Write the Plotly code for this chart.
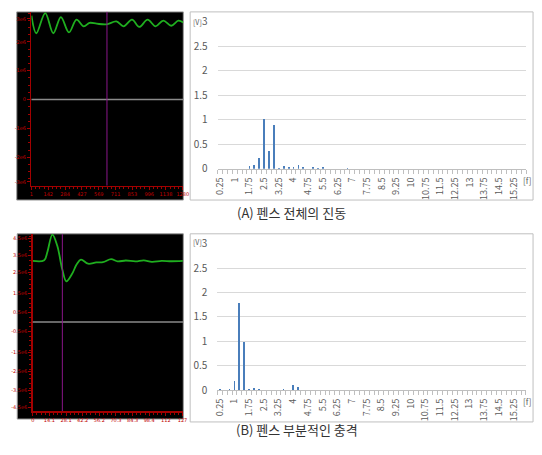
import plotly.graph_objects as go

W, H = 542, 455

# ---------------- data ----------------
# (A) time signal (left top)
sigA_t = [0, 0.29, 0.82, 1.30, 1.75, 2.23, 2.68, 3.11, 3.46, 3.88, 4.47, 5.05,
          5.48, 5.98, 6.41, 6.91, 7.38, 7.84, 8.31, 8.74, 9.03]
sigA_v = [2.91, 2.30, 3.00, 2.30, 2.86, 2.33, 2.77, 2.54, 2.66, 2.63, 2.61, 2.71,
          2.54, 2.77, 2.52, 2.77, 2.54, 2.74, 2.56, 2.74, 2.67]
cursorA = 4.49
sigA_xticks = ["1", "142", "284", "427", "569", "711", "853", "996", "1138", "1280"]
sigA_yvals = [2.8, 2, 1, 0, -1, -2, -2.85]
sigA_ytext = ["3e6", "2e6", "1e6", "0", "-1e6", "-2e6", "-3e6"]

# (B) time signal (left bottom)
sigB_t = [0, 0.69, 0.88, 1.18, 1.47, 1.78, 2.02, 2.35, 2.65, 2.90, 3.33, 3.82,
          4.22, 4.71, 5.10, 5.59, 6.18, 6.67, 7.16, 7.75, 8.33, 9.02]
sigB_v = [3.22, 3.25, 3.69, 4.60, 4.03, 2.76, 2.14, 2.51, 3.05, 3.29, 3.07, 3.14,
          3.15, 3.31, 3.19, 3.24, 3.19, 3.25, 3.17, 3.22, 3.20, 3.22]
cursorB = 1.78
sigB_xticks = ["0", "14.1", "28.1", "42.2", "56.2", "70.3", "84.3", "98.4", "112", "127"]
sigB_yvals = [4.4, 3.5, 2.6, 1.5, 0.5, -0.5, -1.6, -2.6, -3.6, -4.5]
sigB_ytext = ["4.5e6", "3.5e6", "2.5e6", "1.5e6", "0.5e6", "-0.5e6", "-1.5e6",
              "-2.5e6", "-3.5e6", "-4.5e6"]

# spectra: frequency categories 0.25 .. 15.75
freq = [0.25, 0.5, 0.75, 1.0, 1.25, 1.5, 1.75, 2.0, 2.25, 2.5, 2.75, 3.0, 3.25,
        3.5, 3.75, 4.0, 4.25, 4.5, 4.75, 5.0, 5.25, 5.5, 5.75, 6.0, 6.25, 6.5,
        6.75, 7.0, 7.25, 7.5, 7.75, 8.0, 8.25, 8.5, 8.75, 9.0, 9.25, 9.5, 9.75,
        10.0, 10.25, 10.5, 10.75, 11.0, 11.25, 11.5, 11.75, 12.0, 12.25, 12.5,
        12.75, 13.0, 13.25, 13.5, 13.75, 14.0, 14.25, 14.5, 14.75, 15.0, 15.25,
        15.5, 15.75]
specA = [0, 0, 0, 0, 0, 0, 0.06, 0.08, 0.23, 1.01, 0.37, 0.89, 0.01,
         0.065, 0.03, 0.04, 0.085, 0.03, 0.005, 0.045, 0.02, 0.03, 0.005, 0, 0, 0.005,
         0.02, 0, 0, 0, 0, 0, 0, 0, 0, 0, 0, 0, 0,
         0, 0, 0, 0, 0, 0, 0, 0, 0, 0, 0,
         0, 0, 0, 0, 0, 0, 0, 0, 0, 0, 0,
         0, 0]
specB = [0.02, 0.01, 0.02, 0.19, 1.78, 0.98, 0.02, 0.04, 0.02, 0.005, 0, 0, 0.005,
         0.02, 0, 0.10, 0.065, 0.01, 0, 0, 0, 0, 0, 0, 0, 0,
         0.01, 0, 0.01, 0, 0, 0, 0, 0, 0, 0, 0, 0, 0,
         0, 0, 0, 0, 0, 0, 0, 0, 0, 0, 0,
         0, 0, 0, 0, 0, 0, 0, 0, 0, 0, 0,
         0, 0]
freq_labels = ["0.25", "1", "1.75", "2.5", "3.25", "4", "4.75", "5.5", "6.25", "7",
               "7.75", "8.5", "9.25", "10", "10.75", "11.5", "12.25", "13", "13.75",
               "14.5", "15.25"]
captions = ["(A) 펜스 전체의 진동", "(B) 펜스 부분적인 충격"]

# ---------------- figure ----------------
def px(x):
    return x / W

def py(y):
    return 1 - y / H

fig = go.Figure()

GREEN = "#1fae1f"
RED = "#a30000"
RED_TXT = "#c00000"
BAR = "#4a7ebb"
GRID = "#d9d9d9"
TXT = "#595959"
FONT = "Noto Sans CJK KR"

fig.add_trace(go.Scatter(x=sigA_t, y=sigA_v, mode="lines", line=dict(color=GREEN, width=1.8, shape="spline", smoothing=1.0),
                         xaxis="x", yaxis="y", hoverinfo="skip"))
fig.add_trace(go.Bar(x=freq, y=specA, width=0.09, marker=dict(color=BAR, line=dict(width=0)),
                     xaxis="x2", yaxis="y2"))
fig.add_trace(go.Scatter(x=sigB_t, y=sigB_v, mode="lines", line=dict(color=GREEN, width=1.8, shape="spline", smoothing=1.0),
                         xaxis="x3", yaxis="y3", hoverinfo="skip"))
fig.add_trace(go.Bar(x=freq, y=specB, width=0.09, marker=dict(color=BAR, line=dict(width=0)),
                     xaxis="x4", yaxis="y4"))

def scope_x(dom, anchor, ticktext):
    return dict(domain=dom, anchor=anchor, range=[0, 9.03], tickvals=list(range(len(ticktext))),
                ticktext=ticktext, showgrid=False, zeroline=False, showline=True, linecolor=RED,
                linewidth=1.5, ticks="outside", ticklen=3, tickcolor=RED, tickwidth=1,
                tickfont=dict(size=5, color=RED_TXT, family="DejaVu Sans"),
                minor=dict(ticks="outside", dtick=0.25, ticklen=2, tickcolor=RED),
                fixedrange=True)

def scope_y(dom, anchor, rng, vals, text):
    return dict(domain=dom, anchor=anchor, range=rng, tickvals=vals, ticktext=text,
                showgrid=False, zeroline=False, showline=True, linecolor=RED, linewidth=1.5,
                ticks="outside", ticklen=3, tickcolor=RED, tickwidth=1,
                tickfont=dict(size=5, color=RED_TXT, family="DejaVu Sans"),
                minor=dict(ticks="outside", dtick=0.25, ticklen=2, tickcolor=RED),
                fixedrange=True)

def spec_x(dom, anchor):
    return dict(domain=dom, anchor=anchor, range=[0.125, 15.875], tickvals=freq[::3],
                ticktext=freq_labels, tickangle=-90, showgrid=False, zeroline=False,
                showline=True, linecolor="#bfbfbf", linewidth=1, ticks="",
                tickfont=dict(size=9, color=TXT, family=FONT),
                minor=dict(ticks="outside", tick0=0.125, dtick=0.25, ticklen=4, tickcolor="#bfbfbf"),
                ticklabelstandoff=4, fixedrange=True)

def spec_y(dom, anchor):
    return dict(domain=dom, anchor=anchor, range=[0, 3], dtick=0.5, showgrid=True,
                gridcolor=GRID, gridwidth=1, zeroline=False, showline=False,
                tickfont=dict(size=10, color=TXT, family=FONT), ticklabelstandoff=9,
                fixedrange=True)

fig.update_layout(
    width=W, height=H, margin=dict(l=0, r=0, t=0, b=0),
    paper_bgcolor="white", plot_bgcolor="rgba(0,0,0,0)", showlegend=False,
    xaxis=scope_x([px(27), px(182)], "y", sigA_xticks),
    yaxis=scope_y([py(183), py(3)], "x", [-2.98, 3.04], sigA_yvals, sigA_ytext),
    xaxis2=spec_x([px(217), px(532)], "y2"),
    yaxis2=spec_y([py(165.7), py(13.3)], "x2"),
    xaxis3=scope_x([px(28.3), px(181.7)], "y3", sigB_xticks),
    yaxis3=scope_y([py(416.7), py(233.3)], "x3", [-4.69, 4.63], sigB_yvals, sigB_ytext),
    xaxis4=spec_x([px(216.7), px(531.7)], "y4"),
    yaxis4=spec_y([py(395), py(243.3)], "x4"),
    bargap=0,
)

shapes = [
    # black scope panels
    dict(type="rect", xref="paper", yref="paper", x0=px(12), x1=px(182), y0=py(198), y1=py(3),
         fillcolor="black", line=dict(color="#9a9a9a", width=1), layer="below"),
    dict(type="rect", xref="paper", yref="paper", x0=px(12.5), x1=px(182), y0=py(425), y1=py(233),
         fillcolor="black", line=dict(color="#9a9a9a", width=1), layer="below"),
    # spectrum panel frames
    dict(type="rect", xref="paper", yref="paper", x0=px(189), x1=px(539), y0=py(198), y1=py(3),
         fillcolor="rgba(0,0,0,0)", line=dict(color="#bfbfbf", width=1), layer="below"),
    dict(type="rect", xref="paper", yref="paper", x0=px(189), x1=px(539), y0=py(428), y1=py(233),
         fillcolor="rgba(0,0,0,0)", line=dict(color="#bfbfbf", width=1), layer="below"),
    # zero lines in scopes
    dict(type="line", xref="x domain", yref="y", x0=0, x1=1, y0=0, y1=0,
         line=dict(color="#8a8a8a", width=1.5)),
    dict(type="line", xref="x3 domain", yref="y3", x0=0, x1=1, y0=0, y1=0,
         line=dict(color="#8a8a8a", width=1.5)),
    # cursors
    dict(type="line", xref="x", yref="y domain", x0=cursorA, x1=cursorA, y0=0, y1=1,
         line=dict(color="#8a168a", width=1)),
    dict(type="line", xref="x3", yref="y3 domain", x0=cursorB, x1=cursorB, y0=0, y1=1,
         line=dict(color="#8a168a", width=1)),
]
fig.update_layout(shapes=shapes)

ann = [
    dict(text="[V]", x=px(190), y=py(13), xref="paper", yref="paper", xanchor="left", yanchor="middle",
         showarrow=False, font=dict(size=7, color=TXT, family=FONT)),
    dict(text="[f]", x=px(533), y=py(178), xref="paper", yref="paper", xanchor="center", yanchor="middle",
         showarrow=False, font=dict(size=8, color=TXT, family=FONT)),
    dict(text="[V]", x=px(190), y=py(241), xref="paper", yref="paper", xanchor="left", yanchor="middle",
         showarrow=False, font=dict(size=7, color=TXT, family=FONT)),
    dict(text="[f]", x=px(533), y=py(407), xref="paper", yref="paper", xanchor="center", yanchor="middle",
         showarrow=False, font=dict(size=8, color=TXT, family=FONT)),
    dict(text=captions[0], x=px(292), y=py(211), xref="paper", yref="paper", xanchor="center", yanchor="middle",
         showarrow=False, font=dict(size=13, color="#333333", family=FONT)),
    dict(text=captions[1], x=px(298), y=py(436), xref="paper", yref="paper", xanchor="center", yanchor="middle",
         showarrow=False, font=dict(size=13, color="#333333", family=FONT)),
]
fig.update_layout(annotations=ann)

fig.write_html("out.html", config={"displayModeBar": False, "staticPlot": True},
               post_script="document.body.style.margin='0';document.body.style.padding='0';document.body.style.overflow='hidden';")
